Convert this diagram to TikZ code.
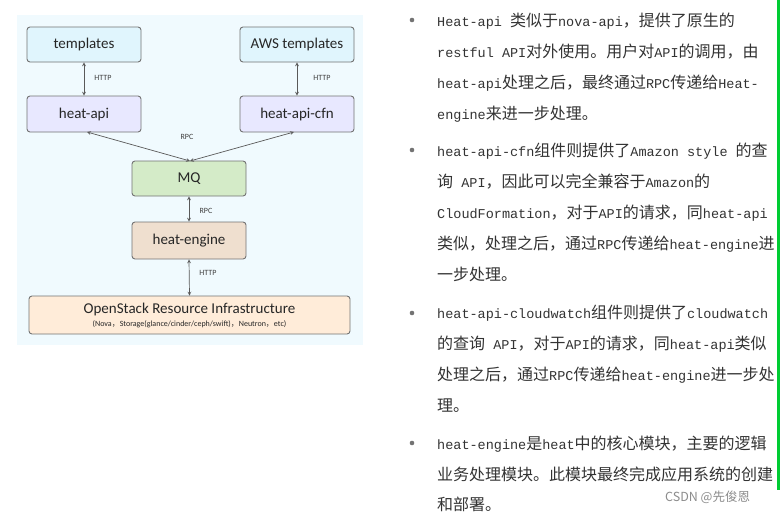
\documentclass[tikz,border=0pt]{standalone}
\usepackage{fontspec}
\setmainfont{Liberation Mono}
\newfontfamily\mycjk{Noto Sans CJK SC}
\newfontfamily\mycal{Carlito}
\begin{document}
\begin{tikzpicture}[x=1pt,y=-1pt,
 box/.style={draw=black!55,line width=0.9pt,rounded corners=3pt,font=\mycal\fontsize{15}{15}\selectfont,text=black!85},
 lab/.style={font=\mycal\fontsize{8}{8}\selectfont,text=black!75},
 arr/.style={<->,>=stealth,black!65,line width=0.7pt},
 ln/.style={anchor=base west,inner sep=0pt,font=\fontsize{13.5}{13.5}\selectfont,text=black!80}]
\useasboundingbox (0,0) rectangle (780,512);
\fill[white] (0,0) rectangle (780,512);
\fill[cyan!6] (17,15) rectangle (363,345);
\node[box,fill=cyan!12,minimum width=114pt,minimum height=35pt] (tpl) at (84,44.5) {templates};
\node[box,fill=cyan!12,minimum width=114pt,minimum height=35pt] (aws) at (297,44.5) {AWS templates};
\node[box,fill=blue!9,minimum width=114pt,minimum height=36pt] (api) at (84,114) {heat-api};
\node[box,fill=blue!9,minimum width=114pt,minimum height=36pt] (cfn) at (297,114) {heat-api-cfn};
\node[box,fill=olive!25!green!20,minimum width=114pt,minimum height=35pt] (mq) at (189,178.5) {MQ};
\node[box,fill=brown!25,minimum width=114pt,minimum height=37pt] (eng) at (189,240.5) {heat-engine};
\node[box,fill=orange!15,minimum width=321pt,minimum height=38pt,align=center] (os) at (189.5,315)
 {OpenStack Resource Infrastructure\\[-2pt]{\fontsize{8}{9}\selectfont (Nova{\mycjk，}Storage(glance/cinder/ceph/swift){\mycjk，}Neutron{\mycjk，}etc)}};
\draw[arr] (tpl.south) -- (api.north);
\draw[arr] (aws.south) -- (cfn.north);
\coordinate (mqt) at (190,161);
\draw[arr] (87,132) -- (mqt);
\draw[arr] (294,132) -- (mqt);
\draw[arr] (mq.south) -- (eng.north);
\draw[arr] (eng.south) -- (os.north);
\node[lab] at (103,78) {HTTP};
\node[lab] at (322,78) {HTTP};
\node[lab] at (187,137) {RPC};
\node[lab] at (206,211) {RPC};
\node[lab] at (208,273) {HTTP};
\foreach \y in {20,150,313,443} \fill[black!55] (412,\y) circle (2.3pt);
\def\C#1{{\mycjk\fontsize{16}{16}\selectfont #1}}
\node[ln] at (437,26) {Heat-api \C{类似于}nova-api\C{，提供了原生的}};
\node[ln] at (437,57) {restful API\C{对外使用。用户对}API\C{的调用，由}};
\node[ln] at (437,88) {heat-api\C{处理之后，最终通过}RPC\C{传递给}Heat-};
\node[ln] at (437,119) {engine\C{来进一步处理。}};
\node[ln] at (437,156) {heat-api-cfn\C{组件则提供了}Amazon style \C{的查}};
\node[ln] at (437,187) {\C{询} API\C{，因此可以完全兼容于}Amazon\C{的}};
\node[ln] at (437,218) {CloudFormation\C{，对于}API\C{的请求，同}heat-api};
\node[ln] at (437,249) {\C{类似，处理之后，通过}RPC\C{传递给}heat-engine\C{进}};
\node[ln] at (437,280) {\C{一步处理。}};
\node[ln] at (437,318) {heat-api-cloudwatch\C{组件则提供了}cloudwatch};
\node[ln] at (437,349) {\C{的查询} API\C{，对于}API\C{的请求，同}heat-api\C{类似}};
\node[ln] at (437,380) {\C{处理之后，通过}RPC\C{传递给}heat-engine\C{进一步处}};
\node[ln] at (437,411) {\C{理。}};
\node[ln] at (437,449) {heat-engine\C{是}heat\C{中的核心模块，主要的逻辑}};
\node[ln] at (437,480) {\C{业务处理模块。此模块最终完成应用系统的创建}};
\node[ln] at (437,510) {\C{和部署。}};
\node[anchor=base west,inner sep=0pt,text=black!45,font=\mycjk\fontsize{12.5}{12.5}\selectfont] (wm) at (665,501) {CSDN @先俊恩};
\fill[green!60!teal] (777,0) rectangle (780,490);
\end{tikzpicture}
\end{document}
